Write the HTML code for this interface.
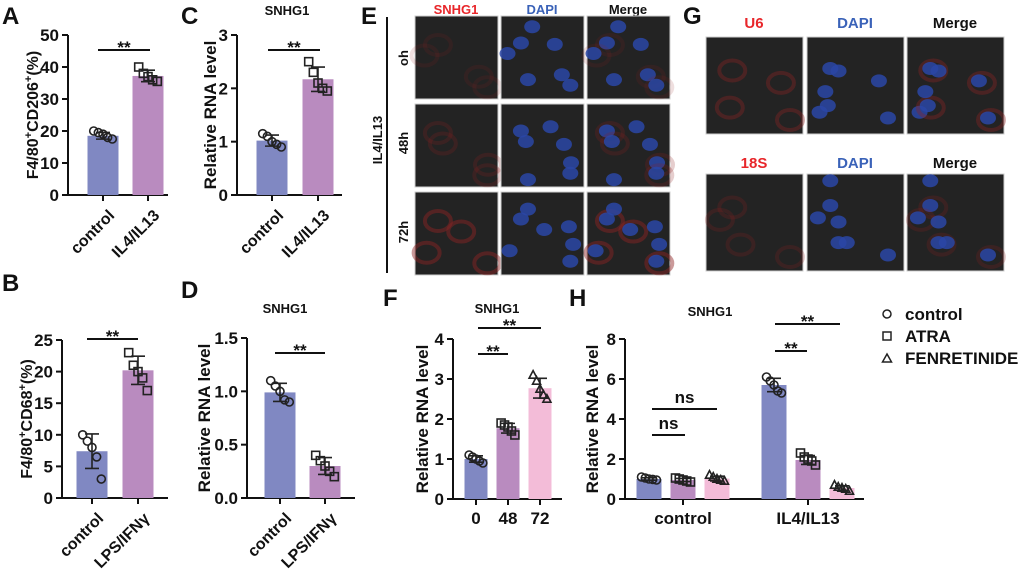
<!DOCTYPE html>
<html><head><meta charset="utf-8">
<style>
html,body{margin:0;padding:0;background:#fff;}
svg{display:block;font-family:"Liberation Sans",Arial,sans-serif;font-weight:bold;}
</style></head>
<body>
<svg id="fig" width="1020" height="574" viewBox="0 0 1020 574" xmlns="http://www.w3.org/2000/svg">
<g font-size="24" fill="#111">
<text x="2" y="24">A</text>
<text x="181" y="24">C</text>
<text x="361" y="24">E</text>
<text x="683" y="24">G</text>
<text x="2" y="291">B</text>
<text x="181" y="298">D</text>
<text x="383" y="306">F</text>
<text x="569" y="306">H</text>
</g>
<g>
<text x="456" y="14" font-size="13" fill="#e8262a" text-anchor="middle">SNHG1</text>
<text x="542" y="14" font-size="13" fill="#3a62b8" text-anchor="middle">DAPI</text>
<text x="628" y="14" font-size="13" fill="#111" text-anchor="middle">Merge</text>
<line x1="387" y1="17" x2="387" y2="273" stroke="#111" stroke-width="2"/>
<text transform="translate(382,140) rotate(-90)" font-size="13" text-anchor="middle" fill="#111">IL4/IL13</text>
<text transform="translate(408,58) rotate(-90)" font-size="13" text-anchor="middle" fill="#111">oh</text>
<text transform="translate(408,143) rotate(-90)" font-size="13" text-anchor="middle" fill="#111">48h</text>
<text transform="translate(408,232) rotate(-90)" font-size="13" text-anchor="middle" fill="#111">72h</text>
<g id="eImgs"></g>
</g>
<g>
<text x="754" y="28" font-size="15" fill="#e8262a" text-anchor="middle">U6</text>
<text x="855" y="28" font-size="15" fill="#3a62b8" text-anchor="middle">DAPI</text>
<text x="955" y="28" font-size="15" fill="#111" text-anchor="middle">Merge</text>
<text x="754" y="168" font-size="15" fill="#e8262a" text-anchor="middle">18S</text>
<text x="855" y="168" font-size="15" fill="#3a62b8" text-anchor="middle">DAPI</text>
<text x="955" y="168" font-size="15" fill="#111" text-anchor="middle">Merge</text>
<g id="gImgs"></g>
</g>
<g id="charts"></g>
<g>
<circle cx="887" cy="314" r="4" fill="#fff" stroke="#222" stroke-width="1.5"/>
<text x="905" y="320" font-size="17" fill="#111">control</text>
<rect x="883" y="332" width="8" height="8" fill="#fff" stroke="#222" stroke-width="1.5"/>
<text x="905" y="342" font-size="17" fill="#111">ATRA</text>
<path d="M887,354 L891.5,362 L882.5,362 Z" fill="#fff" stroke="#222" stroke-width="1.5"/>
<text x="905" y="364" font-size="17" fill="#111">FENRETINIDE</text>
</g>
</svg>
<script>
// ---- Chart data ----
const aCats = ['control', 'IL4/IL13'];
const aMeans = [18.5, 37.2];
const aPts = [[20, 19.5, 19, 18, 17.5], [40, 38, 37, 36, 35.5]];
const aTicks = [0, 10, 20, 30, 40, 50];

const cCats = ['control', 'IL4/IL13'];
const cMeans = [1.02, 2.17];
const cPts = [[1.15, 1.1, 1.0, 0.95, 0.9], [2.5, 2.3, 2.1, 2.0, 1.95]];
const cTicks = [0, 1, 2, 3];

const bCats = ['control', 'LPS/IFNγ'];
const bMeans = [7.4, 20.2];
const bPts = [[10, 9, 8, 6.5, 3], [23, 21, 20, 19, 17]];
const bTicks = [0, 5, 10, 15, 20, 25];

const dCats = ['control', 'LPS/IFNγ'];
const dMeans = [0.99, 0.30];
const dPts = [[1.1, 1.05, 1.0, 0.92, 0.9], [0.4, 0.35, 0.3, 0.25, 0.2]];
const dTicks = ['0.0', '0.5', '1.0', '1.5'];

const fCats = ['0', '48', '72'];
const fMeans = [1.0, 1.77, 2.77];
const fPts = [[1.1, 1.05, 1.0, 0.95, 0.9], [1.9, 1.85, 1.8, 1.7, 1.6], [3.1, 2.95, 2.75, 2.6, 2.5]];
const fTicks = [0, 1, 2, 3, 4];

const hGroups = ['control', 'IL4/IL13'];
const hSeries = ['control', 'ATRA', 'FENRETINIDE'];
const hMeans = [[1.0, 0.95, 1.02], [5.7, 1.95, 0.55]];
const hPts = [
  [[1.1, 1.05, 1.0, 0.98, 0.95], [1.05, 1.0, 0.95, 0.9, 0.85], [1.2, 1.1, 1.0, 0.95, 0.9]],
  [[6.1, 5.9, 5.7, 5.4, 5.3], [2.3, 2.1, 2.0, 1.9, 1.7], [0.7, 0.6, 0.55, 0.5, 0.4]]
];
const hTicks = [0, 2, 4, 6, 8];

const NS = 'http://www.w3.org/2000/svg';
const COLORS = ['#8088c2', '#b98bbf', '#f3bcd8'];
const SHAPES = ['circle', 'square', 'triangle'];
const root = document.getElementById('charts');

function mk(tag, attrs, parent) {
  const e = document.createElementNS(NS, tag);
  for (const k in attrs) e.setAttribute(k, attrs[k]);
  (parent || root).appendChild(e);
  return e;
}
function sd(a) {
  const m = a.reduce((s, v) => s + v, 0) / a.length;
  return Math.sqrt(a.reduce((s, v) => s + (v - m) * (v - m), 0) / (a.length - 1));
}
function marker(g, shape, x, y, r) {
  let e;
  if (shape === 'circle') e = mk('circle', {cx: x, cy: y, r: r}, g);
  else if (shape === 'square') e = mk('rect', {x: x - r, y: y - r, width: 2 * r, height: 2 * r}, g);
  else e = mk('path', {d: `M${x},${y - r * 1.1} L${x + r},${y + r * 0.8} L${x - r},${y + r * 0.8} Z`}, g);
  e.setAttribute('fill', 'none');
  e.setAttribute('stroke', '#222');
  e.setAttribute('stroke-width', '1.6');
  
  
}

function axes(g, o) {
  const max = parseFloat(o.ticks[o.ticks.length - 1]);
  const ys = v => o.y0 - v / max * (o.y0 - o.yTop);
  const ya = mk('line', {x1: o.x0, y1: o.yTop, x2: o.x0, y2: o.y0, stroke: '#111', 'stroke-width': 2}, g);
  
  
  const xa = mk('line', {x1: o.x0, y1: o.y0, x2: o.xEnd, y2: o.y0, stroke: '#111', 'stroke-width': 2}, g);
  
  
  o.ticks.forEach(t => {
    const y = ys(parseFloat(t));
    mk('line', {x1: o.x0 - 6, y1: y, x2: o.x0, y2: y, stroke: '#111', 'stroke-width': 2}, g);
    const tl = mk('text', {x: o.x0 - 9, y: y + 6, 'font-size': 17, 'text-anchor': 'end', fill: '#111'}, g);
    tl.textContent = t;
    
    
  });
  const yt = mk('text', {transform: `translate(${o.ylx},${(o.y0 + o.yTop) / 2 + (o.ylShift || 0)}) rotate(-90)`, 'font-size': o.ylSize || 16, 'text-anchor': 'middle', fill: '#111'}, g);
  
  
  if (o.ylParts) {
    o.ylParts.forEach(p => {
      const s = mk('tspan', p[1] ? {'baseline-shift': 'super', 'font-size': 11} : {}, yt);
      s.textContent = p[0];
    });
  } else yt.textContent = o.yl;
  if (o.title) {
    const tt = mk('text', {x: o.titleX, y: o.titleY, 'font-size': 13, 'text-anchor': 'middle', fill: '#111'}, g);
    tt.textContent = o.title;
    
    
  }
  return ys;
}

function bar(g, ys, cx, w, mean, pts, color, shape, y0) {
  const r = mk('rect', {x: cx - w / 2, y: ys(mean), width: w, height: y0 - ys(mean), fill: color}, g);
  
  
  const e = sd(pts);
  const eb = mk('path', {d: `M${cx},${ys(mean + e)} L${cx},${ys(mean - e)} M${cx - 7},${ys(mean + e)} L${cx + 7},${ys(mean + e)} M${cx - 7},${ys(mean - e)} L${cx + 7},${ys(mean - e)}`, stroke: '#222', 'stroke-width': 1.6, fill: 'none'}, g);
  
  
  const offs = [-0.3, -0.15, 0, 0.15, 0.3];
  pts.forEach((v, i) => marker(g, shape, cx + offs[i] * w, ys(v), 4));
}

function sig(g, x1, x2, y, label, size) {
  const l = mk('line', {x1: x1, y1: y, x2: x2, y2: y, stroke: '#111', 'stroke-width': 2}, g);
  
  
  const t = mk('text', {x: (x1 + x2) / 2, y: label === 'ns' ? y - 6 : y + 3, 'font-size': size || 17, 'text-anchor': 'middle', fill: '#111'}, g);
  t.textContent = label;
  
  
}

function twoBar(name, o, cats, means, pts) {
  const g = mk('g', {});
  
  
  const ys = axes(g, o);
  cats.forEach((c, i) => {
    const cx = o.cx[i];
    bar(g, ys, cx, 31, means[i], pts[i], COLORS[i], SHAPES[i], o.y0);
    mk('line', {x1: cx, y1: o.y0, x2: cx, y2: o.y0 + 6, stroke: '#111', 'stroke-width': 2}, g);
    const ax = cx + 5, ay = o.y0 + 14;
    const t = mk('text', {x: ax, y: ay, transform: `rotate(-45 ${ax} ${ay})`, 'font-size': 16, 'text-anchor': 'end', 'dominant-baseline': 'hanging', fill: '#111'}, g);
    t.textContent = c;
    
    
  });
  sig(g, o.sig[0], o.sig[1], o.sig[2], '**');
}

twoBar('chart-a', {x0: 68, xEnd: 168, y0: 195, yTop: 35, ticks: aTicks, cx: [103, 148], ylx: 38,
  ylParts: [['F4/80'], ['+', 1], ['CD206'], ['+', 1], ['(%)']], sig: [98, 150, 50]}, aCats, aMeans, aPts);
twoBar('chart-c', {x0: 237, xEnd: 342, y0: 195, yTop: 35, ticks: cTicks, cx: [272, 318], ylx: 216, yl: 'Relative RNA level', ylSize: 17,
  title: 'SNHG1', titleX: 287, titleY: 15, sig: [268, 320, 50]}, cCats, cMeans, cPts);
twoBar('chart-b', {x0: 62, xEnd: 168, y0: 498, yTop: 340, ticks: bTicks, cx: [92, 138], ylx: 32,
  ylParts: [['F4/80'], ['+', 1], ['CD68'], ['+', 1], ['(%)']], sig: [87, 138, 339]}, bCats, bMeans, bPts);
twoBar('chart-d', {x0: 247, xEnd: 355, y0: 498, yTop: 338, ticks: dTicks, cx: [280, 325], ylx: 210, yl: 'Relative RNA level', ylSize: 17,
  title: 'SNHG1', titleX: 285, titleY: 313, sig: [275, 325, 353]}, dCats, dMeans, dPts);

(function () {
  const g = mk('g', {});
  
  
  const o = {x0: 453, xEnd: 562, y0: 499, yTop: 339, ticks: fTicks, ylx: 428, yl: 'Relative RNA level', ylSize: 17, title: 'SNHG1', titleX: 497, titleY: 313};
  const ys = axes(g, o);
  const cxs = [476, 508, 540];
  fCats.forEach((c, i) => {
    bar(g, ys, cxs[i], 23, fMeans[i], fPts[i], COLORS[i], SHAPES[i], o.y0);
    mk('line', {x1: cxs[i], y1: o.y0, x2: cxs[i], y2: o.y0 + 6, stroke: '#111', 'stroke-width': 2}, g);
    const t = mk('text', {x: cxs[i], y: o.y0 + 25, 'font-size': 17, 'text-anchor': 'middle', fill: '#111'}, g);
    t.textContent = c;
    
    
  });
  sig(g, 478, 508, 354, '**');
  sig(g, 478, 541, 328, '**');
})();

(function () {
  const g = mk('g', {});
  
  
  const o = {x0: 625, xEnd: 864, y0: 499, yTop: 339, ticks: hTicks, ylx: 598, yl: 'Relative RNA level', ylSize: 17, title: 'SNHG1', titleX: 710, titleY: 316};
  const ys = axes(g, o);
  const gcx = [683, 808];
  hGroups.forEach((grp, gi) => {
    hSeries.forEach((s, si) => {
      bar(g, ys, gcx[gi] + (si - 1) * 34, 25, hMeans[gi][si], hPts[gi][si], COLORS[si], SHAPES[si], o.y0);
    });
    mk('line', {x1: gcx[gi], y1: o.y0, x2: gcx[gi], y2: o.y0 + 6, stroke: '#111', 'stroke-width': 2}, g);
    const t = mk('text', {x: gcx[gi], y: o.y0 + 25, 'font-size': 17, 'text-anchor': 'middle', fill: '#111'}, g);
    t.textContent = grp;
    
    
  });
  sig(g, 652, 685, 435, 'ns');
  sig(g, 652, 717, 409, 'ns');
  sig(g, 775, 807, 351, '**');
  sig(g, 775, 840, 324, '**');
})();

// Microscopy images (decorative)
function micro(parent, x, y, w, h, kind, seed, redLevel) {
  const gg = mk('g', {}, parent);
  
  
  mk('rect', {x: x, y: y, width: w, height: h, fill: '#232323', stroke: '#cfcfcf', 'stroke-width': 1}, gg);
  const cells = [[0.2, 0.3], [0.55, 0.15], [0.75, 0.45], [0.3, 0.65], [0.65, 0.75], [0.1, 0.9], [0.9, 0.9]];
  cells.forEach((c, i) => {
    const cx = x + w * ((c[0] + seed * 0.13 * (i % 3)) % 1 * 0.85 + 0.07);
    const cy = y + h * ((c[1] + seed * 0.17 * (i % 2)) % 1 * 0.85 + 0.07);
    if (kind !== 'blue' && redLevel > 0 && i % 2 === 0) mk('ellipse', {cx: cx + 3, cy: cy + 2, rx: 13, ry: 10, fill: 'none', stroke: '#8e2222', 'stroke-width': 4, opacity: 0.1 + redLevel * 0.3}, gg);
    if (kind !== 'red') mk('ellipse', {cx: cx, cy: cy, rx: 8, ry: 6.5, fill: '#2a47a6', opacity: 0.85}, gg);
  });
}
const eG = document.getElementById('eImgs');
const eCols = [415, 501, 587], eRows = [16, 104, 192], kinds = ['red', 'blue', 'merge'];
eRows.forEach((ry, ri) => eCols.forEach((cx, ci) => micro(eG, cx, ry, 83, 83, kinds[ci], ri + 1, [0.15, 0.4, 1.2][ri])));
const gG = document.getElementById('gImgs');
const gCols = [706, 807, 907], gRows = [37, 174];
gRows.forEach((ry, ri) => gCols.forEach((cx, ci) => micro(gG, cx, ry, 97, 97, kinds[ci], ri + 4, [0.9, 0.4][ri])));
</script>
</body></html>
